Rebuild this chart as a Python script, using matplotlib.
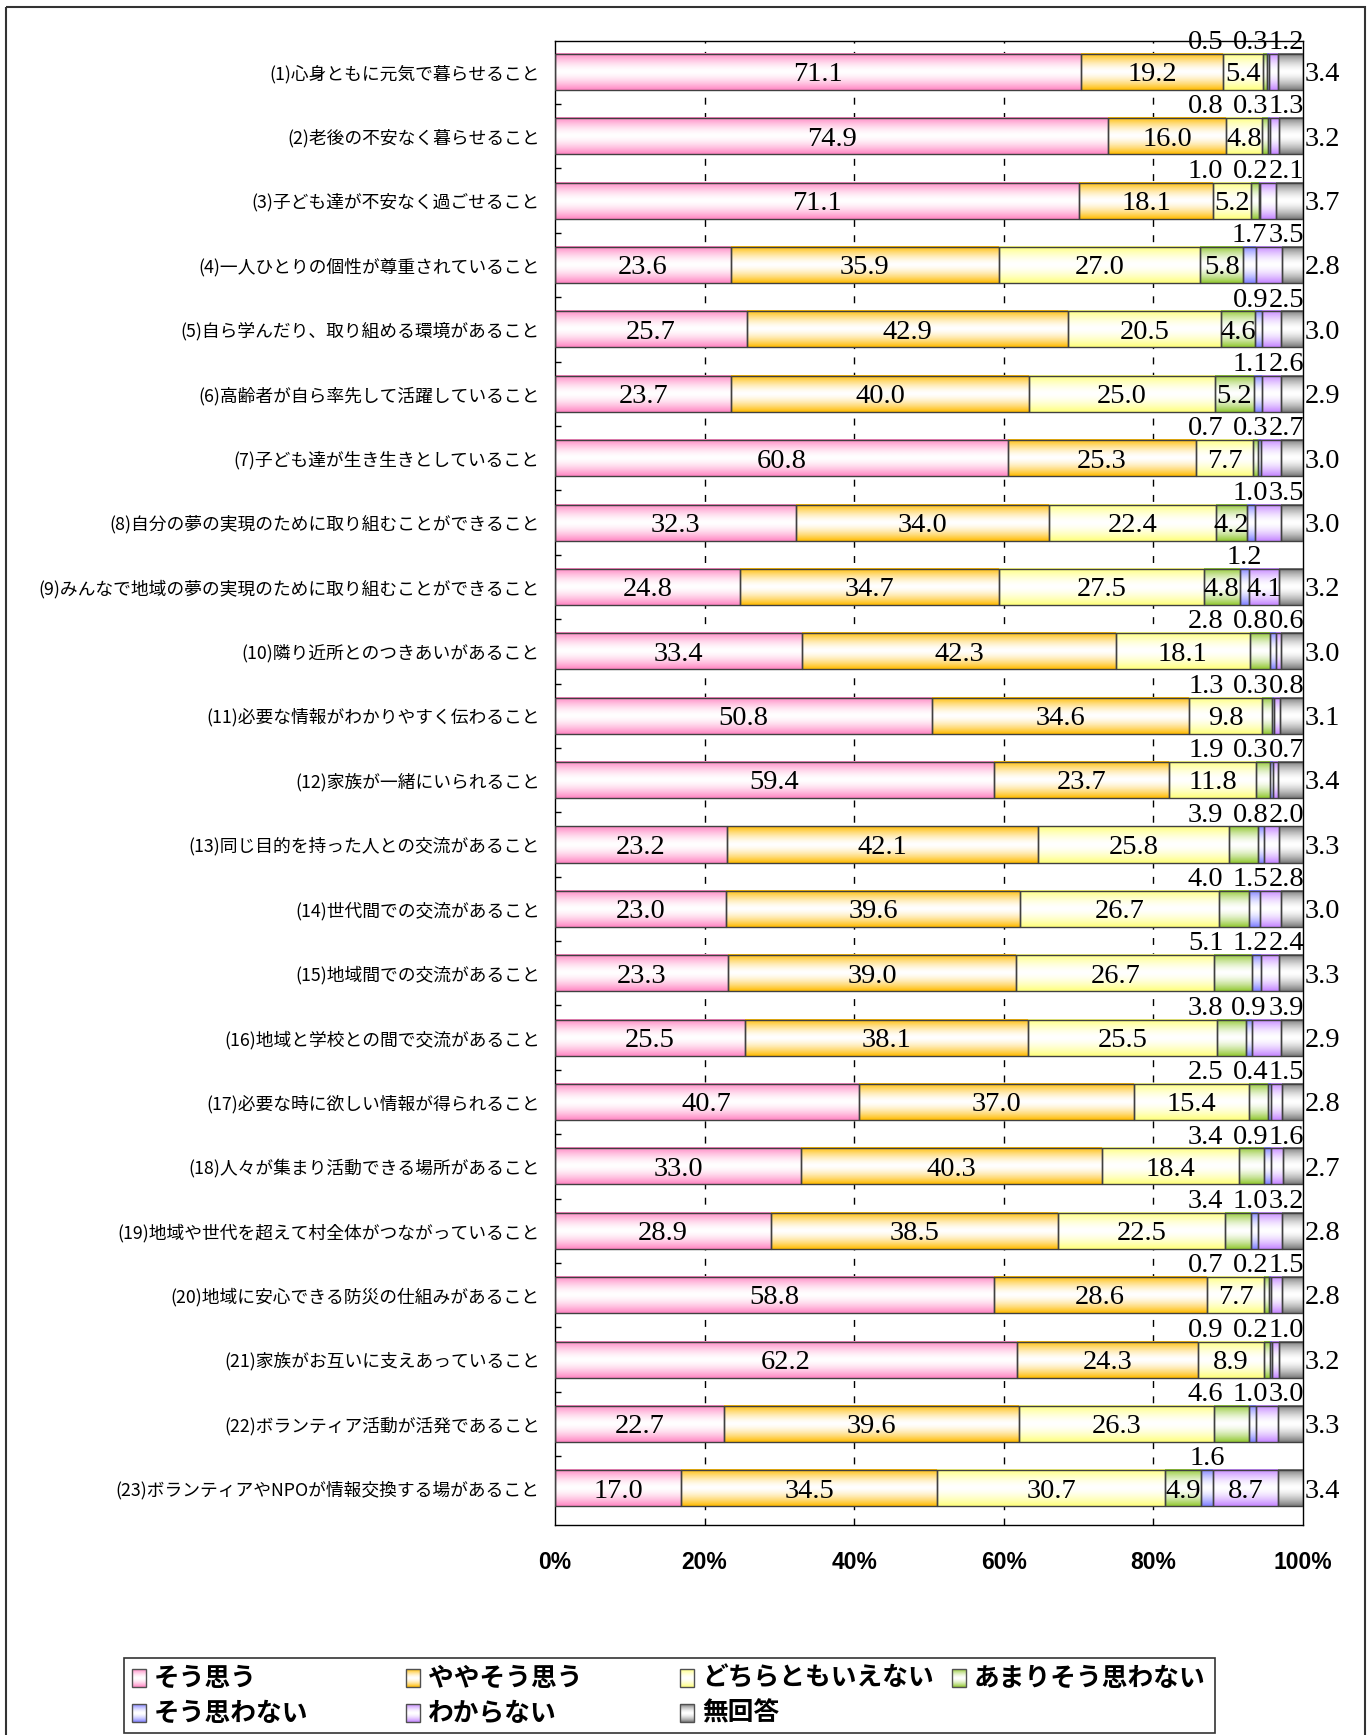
import matplotlib
matplotlib.use('Agg')
import matplotlib.pyplot as plt
import numpy as np
from matplotlib.patches import Rectangle
from matplotlib.colors import to_rgb

plt.rcParams['font.family'] = ['Noto Sans CJK JP', 'DejaVu Sans']

# Data
items = [
    '(1)心身ともに元気で暮らせること',
    '(2)老後の不安なく暮らせること',
    '(3)子ども達が不安なく過ごせること',
    '(4)一人ひとりの個性が尊重されていること',
    '(5)自ら学んだり、取り組める環境があること',
    '(6)高齢者が自ら率先して活躍していること',
    '(7)子ども達が生き生きとしていること',
    '(8)自分の夢の実現のために取り組むことができること',
    '(9)みんなで地域の夢の実現のために取り組むことができること',
    '(10)隣り近所とのつきあいがあること',
    '(11)必要な情報がわかりやすく伝わること',
    '(12)家族が一緒にいられること',
    '(13)同じ目的を持った人との交流があること',
    '(14)世代間での交流があること',
    '(15)地域間での交流があること',
    '(16)地域と学校との間で交流があること',
    '(17)必要な時に欲しい情報が得られること',
    '(18)人々が集まり活動できる場所があること',
    '(19)地域や世代を超えて村全体がつながっていること',
    '(20)地域に安心できる防災の仕組みがあること',
    '(21)家族がお互いに支えあっていること',
    '(22)ボランティア活動が活発であること',
    '(23)ボランティアやNPOが情報交換する場があること',
]
series = ['そう思う', 'ややそう思う', 'どちらともいえない', 'あまりそう思わない',
          'そう思わない', 'わからない', '無回答']

sou_omou = [71.1, 74.9, 71.1, 23.6, 25.7, 23.7, 60.8, 32.3, 24.8, 33.4, 50.8, 59.4,
            23.2, 23.0, 23.3, 25.5, 40.7, 33.0, 28.9, 58.8, 62.2, 22.7, 17.0]
yaya = [19.2, 16.0, 18.1, 35.9, 42.9, 40.0, 25.3, 34.0, 34.7, 42.3, 34.6, 23.7,
        42.1, 39.6, 39.0, 38.1, 37.0, 40.3, 38.5, 28.6, 24.3, 39.6, 34.5]
dochira = [5.4, 4.8, 5.2, 27.0, 20.5, 25.0, 7.7, 22.4, 27.5, 18.1, 9.8, 11.8,
           25.8, 26.7, 26.7, 25.5, 15.4, 18.4, 22.5, 7.7, 8.9, 26.3, 30.7]
amari = [0.5, 0.8, 1.0, 5.8, 4.6, 5.2, 0.7, 4.2, 4.8, 2.8, 1.3, 1.9,
         3.9, 4.0, 5.1, 3.8, 2.5, 3.4, 3.4, 0.7, 0.9, 4.6, 4.9]
omowanai = [0.3, 0.3, 0.2, 1.7, 0.9, 1.1, 0.3, 1.0, 1.2, 0.8, 0.3, 0.3,
            0.8, 1.5, 1.2, 0.9, 0.4, 0.9, 1.0, 0.2, 0.2, 1.0, 1.6]
wakaranai = [1.2, 1.3, 2.1, 3.5, 2.5, 2.6, 2.7, 3.5, 4.1, 0.6, 0.8, 0.7,
             2.0, 2.8, 2.4, 3.9, 1.5, 1.6, 3.2, 1.5, 1.0, 3.0, 8.7]
mukaitou = [3.4, 3.2, 3.7, 2.8, 3.0, 2.9, 3.0, 3.0, 3.2, 3.0, 3.1, 3.4,
            3.3, 3.0, 3.3, 2.9, 2.8, 2.7, 2.8, 2.8, 3.2, 3.3, 3.4]

# rows whose あまりそう思わない label sits inside the bar
green_inside = [4, 5, 6, 8, 9, 23]

colors = ['#FF85C2', '#FFBB00', '#FFFF7A', '#92C832', '#7F7FFF', '#C485FF', '#7A7A7A']
num_font = 'Liberation Serif'


def grad(color, n=64, p=1.6):
    t = np.linspace(0, 1, n)
    w = np.abs(2 * t - 1) ** p
    c = np.array(to_rgb(color))
    arr = 1 - w[:, None] * (1 - c[None, :])
    return arr[:, None, :]


W, H = 1371, 1735
fig = plt.figure(figsize=(W / 100, H / 100), dpi=100)
ax = fig.add_axes([555 / W, 1 - 1525 / H, (1303 - 555) / W, (1525 - 41) / H])

data = np.array([sou_omou, yaya, dochira, amari, omowanai, wakaranai, mukaitou])
shares = data / data.sum(axis=0) * 100
n = len(items)
y = np.arange(n)

left = np.zeros(n)
for k in range(len(series)):
    bars = ax.barh(y, shares[k], left=left, height=0.56, facecolor='none',
                   edgecolor='#404040', lw=1, zorder=3)
    for b in bars:
        x0, y0 = b.get_x(), b.get_y()
        ax.imshow(grad(colors[k]), extent=(x0, x0 + b.get_width(), y0 + b.get_height(), y0),
                  aspect='auto', zorder=2, interpolation='bilinear')
    left += shares[k]

# value labels (baseline placed so digits sit centred)
dy = 0.145
for i in range(n):
    cum = np.concatenate([[0], np.cumsum(shares[:, i])])
    for k in range(len(series)):
        v = data[k, i]
        mid = (cum[k] + cum[k + 1]) / 2
        txt = f'{v:.1f}'
        kw = dict(fontsize=20.5, family=num_font, color='black', zorder=5, va='baseline')
        if k < 3 or (k == 3 and i + 1 in green_inside) or (k in (4, 5) and v >= 4):
            ax.text(mid, i + dy, txt, ha='center', **kw)
        elif k == 6:
            ax.annotate(txt, (100, i + dy), xytext=(1.5, 0), textcoords='offset points',
                        ha='left', annotation_clip=False, **kw)
        else:
            x = {3: 87.0, 4: min(93.0, mid), 5: 97.8}[k]
            ax.text(x, i - 0.5 + dy, txt, ha='center', clip_on=False, **kw)

for gx in [20, 40, 60, 80]:
    ax.axvline(gx, color='black', lw=1, ls=(0, (5, 6)), zorder=1)

ax.set_xlim(0, 100)
ax.set_ylim(n - 1 + 0.57, -0.48)
ax.set_xticks([0, 20, 40, 60, 80, 100])
ax.set_xticklabels([f'{v}%' for v in [0, 20, 40, 60, 80, 100]],
                   fontsize=16.5, fontweight='bold', family='Liberation Sans')
ax.tick_params(axis='x', length=0, pad=19)
ax.set_yticks(y)
ax.set_yticklabels(items, fontsize=12.8)
ax.tick_params(axis='y', which='major', length=0, pad=11)
ax.set_yticks(np.arange(n - 1) + 0.5, minor=True)
ax.tick_params(axis='y', which='minor', direction='in', length=4.5, width=1)
for s in ax.spines.values():
    s.set_linewidth(1)

# overlay in pixel coordinates: outer frame and legend
ov = fig.add_axes([0, 0, 1, 1], zorder=10)
ov.set_xlim(0, W)
ov.set_ylim(H, 0)
ov.axis('off')
ov.add_patch(Rectangle((6, 7), 1359, 1740, fill=False, lw=1.5, ec='#333333'))
ov.add_patch(Rectangle((124, 1658), 1091, 75, fill=False, lw=1.2, ec='#333333'))

col_x = [132, 406, 680, 952]
row_y = [1678, 1713]
for k, name in enumerate(series):
    r, c = divmod(k, 4)
    lx, ly = col_x[c], row_y[r]
    ov.imshow(grad(colors[k]), extent=(lx, lx + 14, ly + 9, ly - 9), aspect='auto',
              interpolation='bilinear')
    ov.add_patch(Rectangle((lx, ly - 9), 14, 18, fill=False, lw=1, ec='#505050'))
    ov.text(lx + 22, ly, name, ha='left', va='center', fontsize=18.5, fontweight='bold')
ov.set_xlim(0, W)
ov.set_ylim(H, 0)

fig.savefig('out.png', dpi=100, facecolor='white')
